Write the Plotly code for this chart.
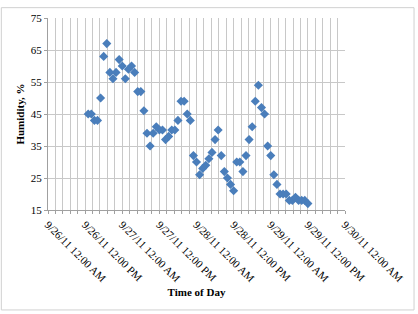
import plotly.graph_objects as go
import pandas as pd

# Hourly humidity readings
start_time = "2011-09-26 13:00"
humidity = [45, 45, 43, 43, 50, 63, 67, 58, 56, 58, 62, 60, 56, 59, 60, 58,
            52, 52, 46, 39, 35, 39, 41, 40, 40, 37, 38, 40, 40, 43, 49, 49,
            45, 43, 32, 30, 26, 28, 29, 31, 33, 37, 40, 32, 27, 25, 23, 21,
            30, 30, 27, 32, 37, 41, 49, 54, 47, 45, 35, 32, 26, 23, 20, 20,
            20, 18, 18, 19, 18, 18, 18, 17]
times = pd.date_range(start_time, periods=len(humidity), freq="h")

y_ticks = [15, 25, 35, 45, 55, 65, 75]

W, H = 418, 314
L, R, T, B = 48, 347, 15, 210  # plot area in pixels

fig = go.Figure()
fig.add_trace(go.Scatter(
    x=times, y=humidity, mode="markers",
    marker=dict(symbol="diamond", size=7, color="#4A7EBB"),
    showlegend=False,
))

grid = "#C8C8C8"
font = "Liberation Serif, Times New Roman, serif"

fig.update_layout(
    width=W, height=H,
    margin=dict(l=L, r=W - R, t=T, b=H - B),
    paper_bgcolor="white", plot_bgcolor="white",
    font=dict(family=font, size=11, color="black"),
    xaxis=dict(
        range=["2011-09-26 00:00", "2011-09-30 00:00"],
        tick0="2011-09-26 00:00", dtick=43200000,
        tickformat="%-m/%-d/%y %I:%M %p",
        tickangle=45,
        showgrid=True, gridcolor=grid, gridwidth=1,
        showline=True, linecolor="#A0A0A0", linewidth=1,
        ticks="outside", ticklen=3, tickcolor="#A0A0A0",
        minor=dict(dtick=8640000, tick0="2011-09-26 00:00", showgrid=True,
                   gridcolor=grid, gridwidth=1, ticks="outside", ticklen=3,
                   tickcolor="#A0A0A0"),
        tickfont=dict(size=11),
        title=dict(text="<b>Time of Day</b>", font=dict(size=11), standoff=4),
        zeroline=False,
    ),
    yaxis=dict(
        range=[15, 75], tickvals=y_ticks,
        showgrid=True, gridcolor=grid, gridwidth=1,
        showline=True, linecolor="#A0A0A0", linewidth=1,
        ticks="outside", ticklen=3, tickcolor="#A0A0A0",
        tickfont=dict(size=11),
        title=dict(text="<b>Humidity, %</b>", font=dict(size=11), standoff=3),
        zeroline=False,
    ),
)

# outer chart border
pw, ph = R - L, B - T
def px_to_paper_x(px):
    return (px - L) / pw
def px_to_paper_y(py):
    return (B - py) / ph
fig.add_shape(type="rect", xref="paper", yref="paper",
              x0=px_to_paper_x(1), x1=px_to_paper_x(416.5),
              y0=px_to_paper_y(311.5), y1=px_to_paper_y(4.5),
              line=dict(color="#D0D0D0", width=1), layer="below")

fig.write_html("out.html")
